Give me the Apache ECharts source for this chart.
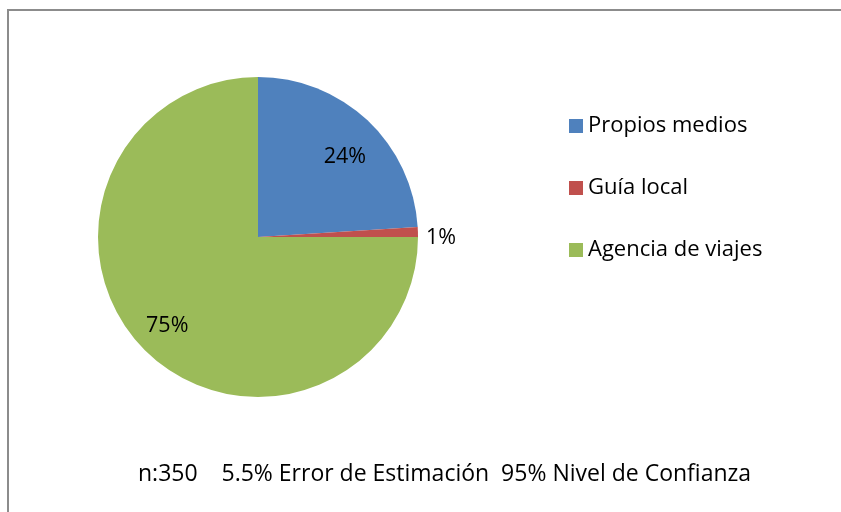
<!DOCTYPE html>
<html style="height: 100%">
<head>
<meta charset="utf-8">
<script src="https://cdn.jsdelivr.net/npm/echarts@6/dist/echarts.min.js"></script>
</head>
<body style="margin: 0; height: 100%; background: #fff">
<div id="container" style="width: 841px; height: 512px"></div>
<script>
// datos del gráfico
var categorias = ['Propios medios', 'Guía local', 'Agencia de viajes'];
var valores = [24, 1, 75];
var colores = ['#4F81BD', '#C0504D', '#9BBB59'];
var nota = 'n:350    5.5% Error de Estimación  95% Nivel de Confianza';

var fuente = 'Open Sans';
var chart = echarts.init(document.getElementById('container'));

var datos = categorias.map(function (c, i) {
  return {
    name: c, value: valores[i], itemStyle: { color: colores[i] },
    label: { show: valores[i] <= 5 }
  };
});
// capa transparente solo para colocar las etiquetas grandes más afuera
var datosEtiq = categorias.map(function (c, i) {
  return {
    name: c, value: valores[i],
    itemStyle: { color: 'rgba(0,0,0,0)' },
    label: { show: valores[i] > 5, offset: i === 0 ? [1, 11] : [-2, 0] }
  };
});

chart.setOption({
  animation: false,
  graphic: [{
    type: 'rect', shape: { x: 8, y: 10, width: 900, height: 600 },
    style: { fill: 'none', stroke: '#8c8c8c', lineWidth: 2 }
  }],
  title: {
    text: nota, left: 133, top: 458,
    textStyle: { fontFamily: fuente, fontSize: 23, fontWeight: 'normal', color: '#000' }
  },
  legend: {
    orient: 'vertical', left: 564, top: 110,
    itemWidth: 14, itemHeight: 14, itemGap: 40,
    icon: 'rect',
    data: categorias,
    textStyle: { fontFamily: fuente, fontSize: 22, color: '#000' }
  },
  series: [{
    type: 'pie', center: [258, 237], radius: [0, 160],
    startAngle: 90, clockwise: true, silent: true,
    data: datos,
    label: {
      position: 'outside', formatter: '{d}%', offset: [0, 6],
      fontFamily: fuente, fontSize: 21.5, color: '#000'
    },
    labelLine: { show: false, length: 3, length2: 0 }
  }, {
    type: 'pie', center: [258, 237], radius: [0, 245],
    startAngle: 90, clockwise: true, silent: true,
    legendHoverLink: false,
    data: datosEtiq,
    label: {
      position: 'inside', formatter: '{d}%',
      fontFamily: fuente, fontSize: 21.5, color: '#000'
    },
    labelLine: { show: false }
  }]
});
</script>
</body>
</html>
